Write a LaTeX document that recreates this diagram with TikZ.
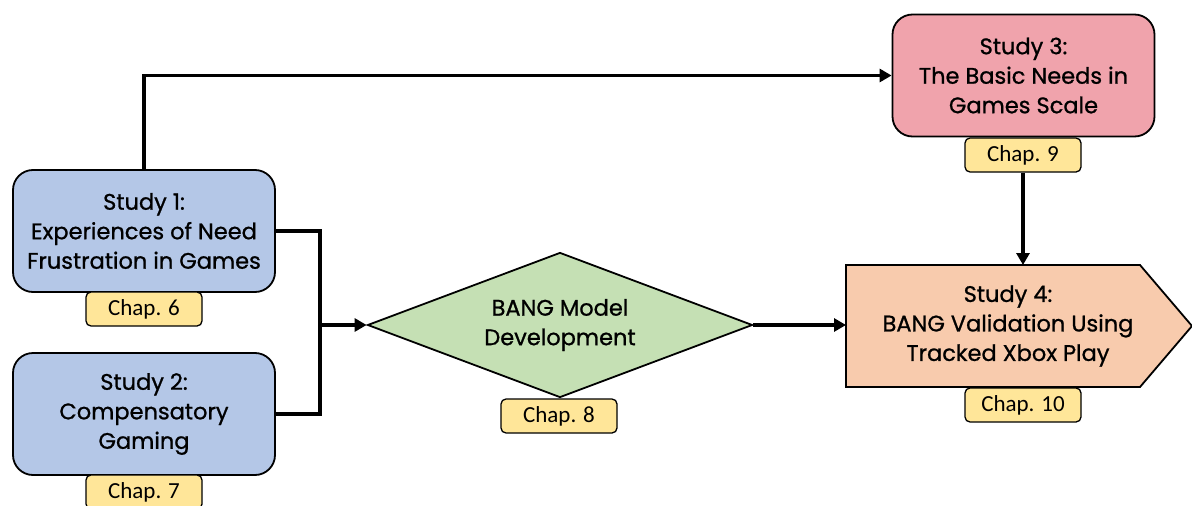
\documentclass[tikz,border=0pt]{standalone}
\usepackage{fontspec}
\setmainfont{Poppins}[FakeBold=0.9]
\newfontfamily\chapfont{Carlito}
\usetikzlibrary{shapes.geometric,arrows.meta}

\definecolor{studyblue}{HTML}{B4C7E7}
\definecolor{studypink}{HTML}{F0A3AC}
\definecolor{banggreen}{HTML}{C5E0B4}
\definecolor{studypeach}{HTML}{F8CBAD}
\definecolor{chapyellow}{HTML}{FFE699}

\begin{document}
\begin{tikzpicture}[x=1pt,y=-1pt,
  study/.style={draw,line width=1.8pt,rounded corners=20pt,minimum width=262pt,minimum height=122pt,align=center,font=\fontsize{22.5}{29.5}\selectfont},
  chap/.style={draw,line width=1.3pt,rounded corners=5pt,fill=chapyellow,minimum width=116pt,minimum height=34pt,inner sep=0pt,font=\chapfont\fontsize{23}{26}\selectfont},
  link/.style={line width=3.8pt,-{Triangle[length=12pt,width=13pt]}}]

\useasboundingbox (0,0) rectangle (1192,506);

\node [study,fill=studyblue] (s1) at (144,231) {Study 1:\\Experiences of Need\\Frustration in Games};
\node [chap] (c6) at (144,309) {Chap. 6};

\node [study,fill=studyblue] (s2) at (144,414) {Study 2:\\Compensatory\\Gaming};
\node [chap] (c7) at (144,492) {Chap. 7};

\node [diamond,draw,fill=banggreen,line width=1.8pt,minimum width=385pt,minimum height=145pt,shape aspect=2.65,inner sep=0pt,align=center,font=\fontsize{22.5}{29.5}\selectfont] (bang) at (560,325) {BANG Model\\Development};
\node [chap] (c8) at (559,416) {Chap. 8};

\node [study,fill=studypink] (s3) at (1023.5,75.5) {Study 3:\\The Basic Needs in\\Games Scale};
\node [chap] (c9) at (1023,155) {Chap. 9};

\draw [fill=studypeach,line width=1.8pt] (846,265) -- (1140,265) -- (1192,326) -- (1140,387) -- (846,387) -- cycle;
\node [align=center,font=\fontsize{22.5}{29.5}\selectfont] (s4) at (1008,326) {Study 4:\\BANG Validation Using\\Tracked Xbox Play};
\coordinate (s4w) at (846,325);
\coordinate (s4n) at (1023,265);
\node [chap] (c10) at (1023,405) {Chap. 10};

\coordinate (j) at (320,325);

\draw [link] (s1.north) |- (s3.west);
\draw [line width=3.8pt] (s1.east) -| (j) |- (s2.east);
\draw [link] (j) -- (bang.west);
\draw [link] (bang.east) -- (s4w);
\draw [link] (c9.south) -- (s4n);

\end{tikzpicture}
\end{document}
